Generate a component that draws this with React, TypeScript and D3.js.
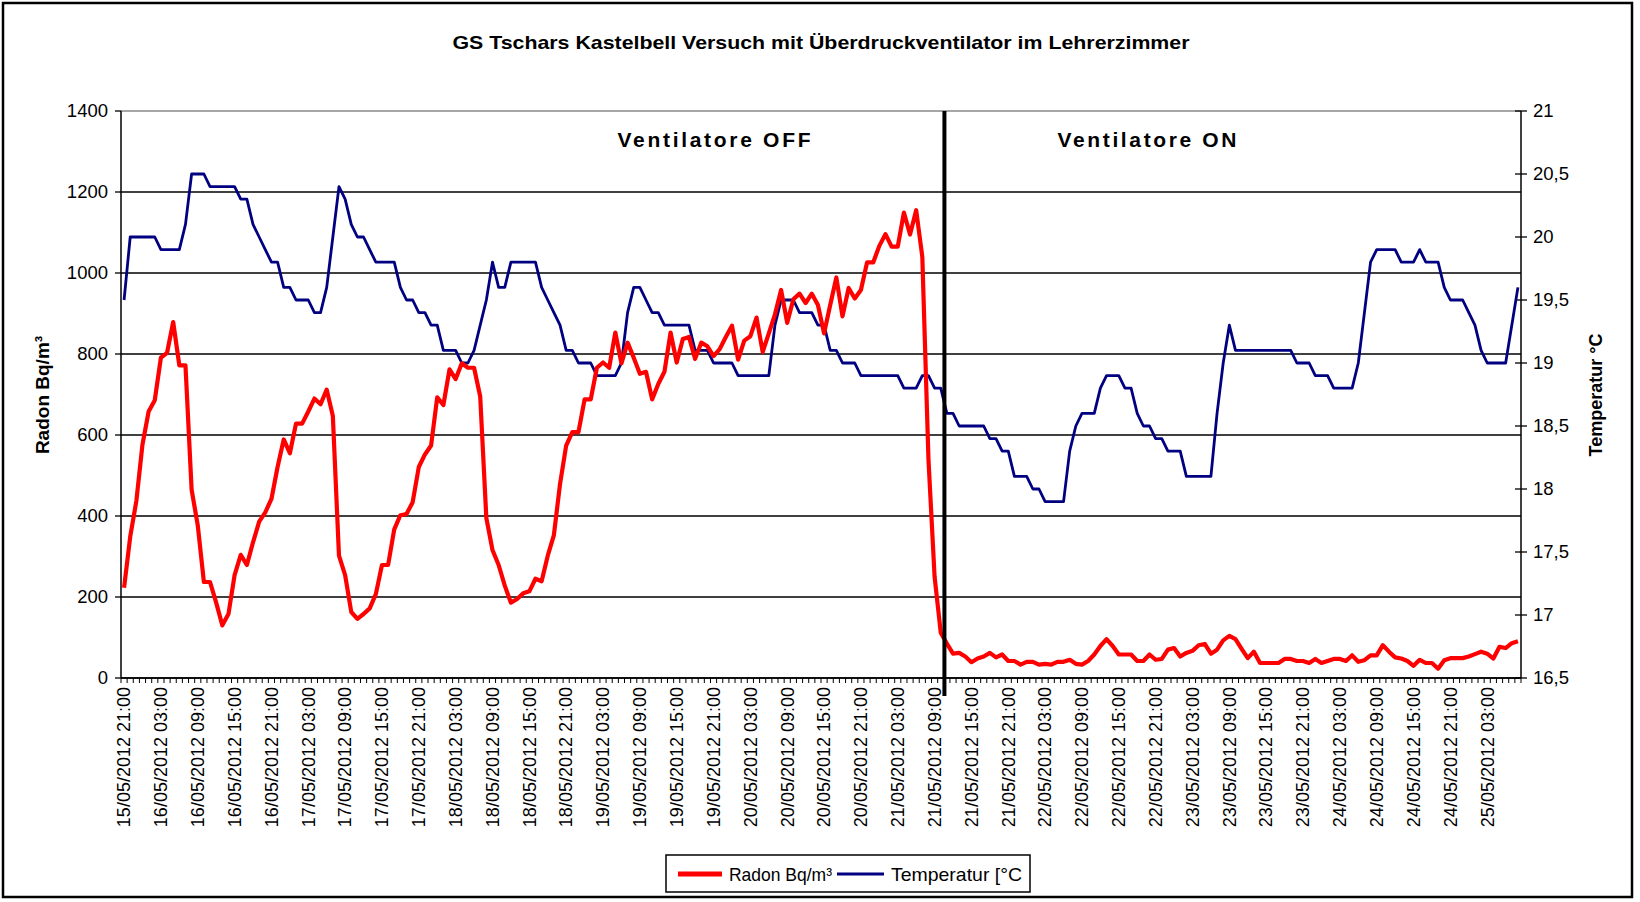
import React from 'react';
import * as d3 from 'd3';

// hourly readings, 15/05/2012 21:00 onwards
const radon = [
  223, 349, 437, 577, 658, 686, 791, 803, 879, 772, 772, 465,
  377, 237, 237, 186, 130, 158, 254, 304, 279, 335, 386, 409,
  442, 521, 589, 555, 628, 628, 658, 690, 676, 712, 647, 302,
  254, 163, 146, 158, 172, 207, 279, 279, 367, 402, 405, 434,
  521, 552, 574, 693, 674, 762, 738, 777, 766, 766, 695, 395,
  316, 279, 228, 186, 195, 209, 214, 245, 239, 302, 353, 479,
  574, 607, 607, 688, 688, 766, 779, 766, 853, 777, 828, 791,
  751, 756, 688, 726, 756, 853, 779, 837, 842, 788, 828, 819,
  795, 812, 842, 870, 786, 833, 844, 890, 805, 851, 898, 958,
  877, 935, 949, 926, 949, 921, 851, 921, 989, 893, 963, 937,
  958, 1026, 1026, 1067, 1096, 1065, 1065, 1149, 1095, 1155, 1040, 540,
  250, 112, 85, 60, 62, 53, 39, 48, 53, 62, 51, 58,
  42, 42, 33, 40, 40, 33, 35, 33, 40, 40, 45, 35,
  33, 42, 58, 79, 96, 79, 58, 58, 58, 42, 42, 58,
  45, 47, 70, 74, 53, 62, 67, 81, 84, 60, 70, 93,
  104, 96, 72, 49, 65, 37, 37, 37, 37, 47, 47, 42,
  42, 37, 47, 37, 42, 47, 47, 42, 56, 40, 44, 56,
  56, 81, 65, 51, 48, 42, 30, 45, 37, 37, 23, 44,
  49, 49, 49, 53, 59, 65, 60, 48, 77, 74, 86, 91,
];

const temperatur = [
  19.5, 20.0, 20.0, 20.0, 20.0, 20.0, 19.9, 19.9, 19.9, 19.9, 20.1, 20.5,
  20.5, 20.5, 20.4, 20.4, 20.4, 20.4, 20.4, 20.3, 20.3, 20.1, 20.0, 19.9,
  19.8, 19.8, 19.6, 19.6, 19.5, 19.5, 19.5, 19.4, 19.4, 19.6, 20.0, 20.4,
  20.3, 20.1, 20.0, 20.0, 19.9, 19.8, 19.8, 19.8, 19.8, 19.6, 19.5, 19.5,
  19.4, 19.4, 19.3, 19.3, 19.1, 19.1, 19.1, 19.0, 19.0, 19.1, 19.3, 19.5,
  19.8, 19.6, 19.6, 19.8, 19.8, 19.8, 19.8, 19.8, 19.6, 19.5, 19.4, 19.3,
  19.1, 19.1, 19.0, 19.0, 19.0, 18.9, 18.9, 18.9, 18.9, 19.0, 19.4, 19.6,
  19.6, 19.5, 19.4, 19.4, 19.3, 19.3, 19.3, 19.3, 19.3, 19.1, 19.1, 19.1,
  19.0, 19.0, 19.0, 19.0, 18.9, 18.9, 18.9, 18.9, 18.9, 18.9, 19.3, 19.5,
  19.5, 19.5, 19.4, 19.4, 19.4, 19.3, 19.3, 19.1, 19.1, 19.0, 19.0, 19.0,
  18.9, 18.9, 18.9, 18.9, 18.9, 18.9, 18.9, 18.8, 18.8, 18.8, 18.9, 18.9,
  18.8, 18.8, 18.6, 18.6, 18.5, 18.5, 18.5, 18.5, 18.5, 18.4, 18.4, 18.3,
  18.3, 18.1, 18.1, 18.1, 18.0, 18.0, 17.9, 17.9, 17.9, 17.9, 18.3, 18.5,
  18.6, 18.6, 18.6, 18.8, 18.9, 18.9, 18.9, 18.8, 18.8, 18.6, 18.5, 18.5,
  18.4, 18.4, 18.3, 18.3, 18.3, 18.1, 18.1, 18.1, 18.1, 18.1, 18.6, 19.0,
  19.3, 19.1, 19.1, 19.1, 19.1, 19.1, 19.1, 19.1, 19.1, 19.1, 19.1, 19.0,
  19.0, 19.0, 18.9, 18.9, 18.9, 18.8, 18.8, 18.8, 18.8, 19.0, 19.4, 19.8,
  19.9, 19.9, 19.9, 19.9, 19.8, 19.8, 19.8, 19.9, 19.8, 19.8, 19.8, 19.6,
  19.5, 19.5, 19.5, 19.4, 19.3, 19.1, 19.0, 19.0, 19.0, 19.0, 19.3, 19.6,
];

// one label every 6th hour
const tickLabels = [
  '15/05/2012 21:00', '16/05/2012 03:00', '16/05/2012 09:00', '16/05/2012 15:00',
  '16/05/2012 21:00', '17/05/2012 03:00', '17/05/2012 09:00', '17/05/2012 15:00',
  '17/05/2012 21:00', '18/05/2012 03:00', '18/05/2012 09:00', '18/05/2012 15:00',
  '18/05/2012 21:00', '19/05/2012 03:00', '19/05/2012 09:00', '19/05/2012 15:00',
  '19/05/2012 21:00', '20/05/2012 03:00', '20/05/2012 09:00', '20/05/2012 15:00',
  '20/05/2012 21:00', '21/05/2012 03:00', '21/05/2012 09:00', '21/05/2012 15:00',
  '21/05/2012 21:00', '22/05/2012 03:00', '22/05/2012 09:00', '22/05/2012 15:00',
  '22/05/2012 21:00', '23/05/2012 03:00', '23/05/2012 09:00', '23/05/2012 15:00',
  '23/05/2012 21:00', '24/05/2012 03:00', '24/05/2012 09:00', '24/05/2012 15:00',
  '24/05/2012 21:00', '25/05/2012 03:00',
];

const radonTicks = [0, 200, 400, 600, 800, 1000, 1200, 1400];
const tempTicks = [16.5, 17, 17.5, 18, 18.5, 19, 19.5, 20, 20.5, 21];

// the fan was switched on here (hour index)
const switchIndex = 133.6;

const font = "'Liberation Sans', Arial, sans-serif";

const App = () => {
  const left = 121, right = 1521, top = 111, bottom = 678;
  const n = radon.length;

  const x = d3.scaleLinear().domain([-0.5, n - 0.5]).range([left, right]);
  const yR = d3.scaleLinear().domain([0, 1400]).range([bottom, top]);
  const yT = d3.scaleLinear().domain([16.5, 21]).range([bottom, top]);

  const radonLine = d3.line<number>().x((d, i) => x(i)).y(d => yR(d));
  const tempLine = d3.line<number>().x((d, i) => x(i)).y(d => yT(d));

  const fmtT = (v: number) => String(v).replace('.', ',');

  return (
    <div style={{ position: 'absolute', left: 0, top: 0 }}>
      <svg width={1640} height={902} style={{ display: 'block', fontFamily: font }}>
        <rect x={0} y={0} width={1640} height={902} fill="#fff" />
        <rect x={3} y={3} width={1629} height={894} fill="none" stroke="#000" strokeWidth={2.5} />

        <text x={821} y={49} textAnchor="middle" fontSize={18.5} fontWeight="bold"
          textLength={737} lengthAdjust="spacingAndGlyphs">
          GS Tschars Kastelbell Versuch mit Überdruckventilator im Lehrerzimmer
        </text>

        {/* gridlines */}
        {radonTicks.map(t => (
          <line key={t} x1={left} x2={right} y1={yR(t)} y2={yR(t)}
            stroke={t === 1400 ? '#888' : '#000'} strokeWidth={1.3} />
        ))}

        {/* left axis */}
        <line x1={left} x2={left} y1={top} y2={bottom} stroke="#000" strokeWidth={1.5} />
        {radonTicks.map(t => (
          <g key={t}>
            <line x1={left - 6} x2={left} y1={yR(t)} y2={yR(t)} stroke="#000" strokeWidth={1.3} />
            <text x={left - 13} y={yR(t)} dy="0.35em" textAnchor="end" fontSize={18.5}>{t}</text>
          </g>
        ))}

        {/* right axis */}
        <line x1={right} x2={right} y1={top} y2={bottom} stroke="#000" strokeWidth={1.5} />
        {tempTicks.map(t => (
          <g key={t}>
            <line x1={right - 6} x2={right + 6} y1={yT(t)} y2={yT(t)} stroke="#000" strokeWidth={1.3} />
            <text x={right + 12} y={yT(t)} dy="0.35em" fontSize={18.5}>{fmtT(t)}</text>
          </g>
        ))}

        {/* category axis */}
        <line x1={left} x2={right} y1={bottom} y2={bottom} stroke="#000" strokeWidth={1.5} />
        {d3.range(n + 1).map(i => (
          <line key={i} x1={x(i - 0.5)} x2={x(i - 0.5)} y1={bottom} y2={bottom + 5}
            stroke="#000" strokeWidth={1} />
        ))}
        {tickLabels.map((lab, k) => (
          <text key={lab} transform={`translate(${x(k * 6)},${bottom + 9}) rotate(-90)`}
            dy="0.35em" textAnchor="end" fontSize={18}>{lab}</text>
        ))}

        {/* axis titles */}
        <text transform={`translate(42,395) rotate(-90)`} dy="0.35em" textAnchor="middle"
          fontSize={19} fontWeight="bold">Radon Bq/m³</text>
        <text transform={`translate(1596,395) rotate(-90)`} dy="0.35em" textAnchor="middle"
          fontSize={18} fontWeight="bold">Temperatur °C</text>

        {/* series */}
        <path d={tempLine(temperatur) ?? ''} fill="none" stroke="#000080" strokeWidth={2.8}
          strokeLinejoin="round" />
        <path d={radonLine(radon) ?? ''} fill="none" stroke="#ff0000" strokeWidth={4.2}
          strokeLinejoin="round" />

        {/* switch marker */}
        <line x1={x(switchIndex)} x2={x(switchIndex)} y1={top} y2={bottom + 18}
          stroke="#000" strokeWidth={4} />
        <text x={714} y={147} textAnchor="middle" fontSize={21} fontWeight="bold"
          textLength={193} lengthAdjust="spacing">
          Ventilatore OFF
        </text>
        <text x={1147} y={147} textAnchor="middle" fontSize={21} fontWeight="bold"
          textLength={179} lengthAdjust="spacing">
          Ventilatore ON
        </text>

        {/* legend */}
        <rect x={666} y={855} width={364} height={37} fill="#fff" stroke="#000" strokeWidth={1.5} />
        <line x1={678} x2={722} y1={874} y2={874} stroke="#ff0000" strokeWidth={5} />
        <text x={729} y={874} dy="0.35em" fontSize={19}
          textLength={103} lengthAdjust="spacingAndGlyphs">Radon Bq/m³</text>
        <line x1={837} x2={884} y1={874} y2={874} stroke="#000080" strokeWidth={3} />
        <text x={891} y={874} dy="0.35em" fontSize={19}
          textLength={131} lengthAdjust="spacingAndGlyphs">Temperatur [°C</text>
      </svg>
    </div>
  );
};

export default App;
